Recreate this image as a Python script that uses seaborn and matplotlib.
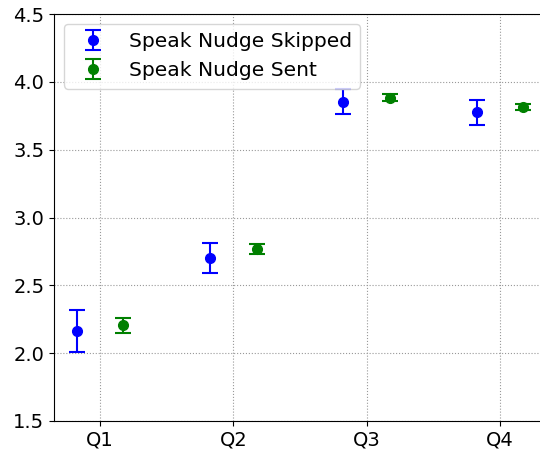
import numpy as np
import seaborn as sns
import matplotlib
matplotlib.use('Agg')
import matplotlib.pyplot as plt

quarters = ['Q1', 'Q2', 'Q3', 'Q4']
skipped_mean = [2.16, 2.70, 3.855, 3.775]
skipped_err = [0.155, 0.11, 0.09, 0.09]
sent_mean = [2.205, 2.767, 3.883, 3.815]
sent_err = [0.055, 0.037, 0.025, 0.022]

sns.set_style('ticks', {'text.color': 'black', 'xtick.color': 'black',
                        'ytick.color': 'black', 'axes.edgecolor': 'black',
                        'axes.labelcolor': 'black'})
plt.rcParams['font.family'] = ['DejaVu Sans']

fig = plt.figure(figsize=(5.4, 4.51), dpi=100)
ax = fig.add_axes([54 / 540, 30 / 451, 500 / 540, 407 / 451])

x = np.arange(len(quarters))
offset = 0.175

ax.errorbar(x - offset, skipped_mean, yerr=skipped_err, fmt='o', color='blue',
            markersize=7, capsize=5.5, elinewidth=1.5, capthick=1.5,
            label='Speak Nudge Skipped')
ax.errorbar(x + offset, sent_mean, yerr=sent_err, fmt='o', color='green',
            markersize=7, capsize=5.5, elinewidth=1.5, capthick=1.5,
            label='Speak Nudge Sent')

ax.set_xticks(x)
ax.set_xticklabels(quarters)
ax.set_xlim(-0.345, 3.405)
ax.set_ylim(1.5, 4.5)
ax.set_yticks(np.arange(1.5, 4.51, 0.5))
ax.grid(True, linestyle=':', color='#999999', linewidth=0.8)
ax.tick_params(labelsize=14, colors='black')

ax.legend(loc='upper left', fontsize=14.6)

plt.savefig('out.png', dpi=100)
